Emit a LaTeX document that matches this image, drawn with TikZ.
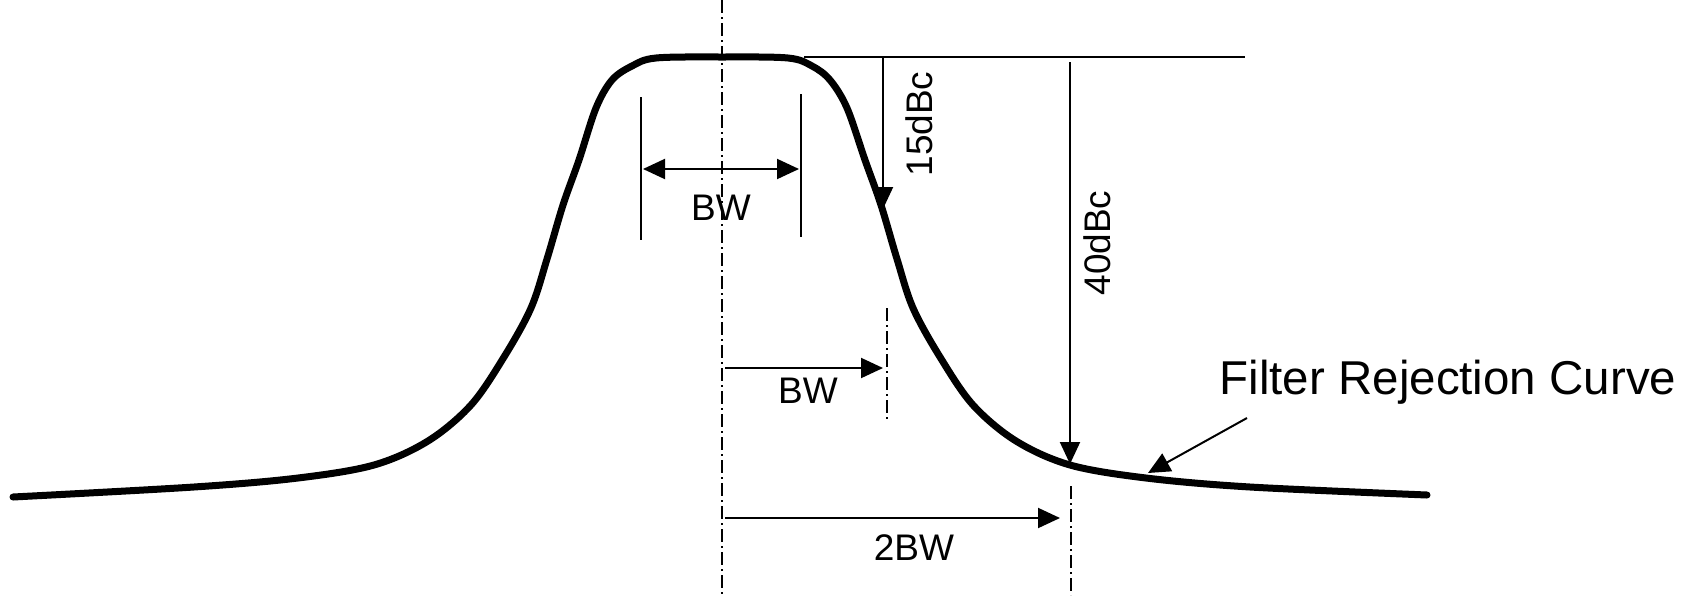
\documentclass[tikz,border=0pt]{standalone}
\usepackage{fontspec}
\setmainfont{Liberation Sans}
\usetikzlibrary{arrows.meta}
\begin{document}
\begin{tikzpicture}[x=1pt,y=-1pt,
  curve/.style={line width=7pt,line cap=round,line join=round},
  thinline/.style={line width=2pt},
  dd/.style={line width=1.5pt,dash pattern=on 13pt off 4pt on 2pt off 4pt},
  tipped/.style={-{Triangle[length=22pt,width=20pt]}},
  dtipped/.style={{Triangle[length=22pt,width=20pt]}-{Triangle[length=22pt,width=20pt]}},
  lbl/.style={font=\fontsize{37}{40}\selectfont,inner sep=0pt},
  biglbl/.style={font=\fontsize{47.5}{52}\selectfont,inner sep=0pt},
]
\useasboundingbox (0,0) rectangle (1695,595);

% filter curve
\draw[curve] plot[smooth,tension=0.55] coordinates {
 (13,497) (194,487) (298,478) (374,465) (428,441) (471,405) (504,357)
 (531,308) (547,259) (563,205) (579,160) (596,108) (612,80) (632,66) (656,58)
 (722,57) (788,58) (812,66) (830,80) (847,108) (865,160) (881,205)
 (897,259) (913,308) (940,357) (973,405) (1016,441) (1070,465)
 (1146,478) (1250,487) (1427,495)};

% centre line
\coordinate (ctop) at (722,0);
\coordinate (cbot) at (722,595);
\draw[dd] (ctop) -- (cbot);

% BW top
\coordinate (bwlt) at (641,97);  \coordinate (bwlb) at (641,240);
\coordinate (bwrt) at (801,94);  \coordinate (bwrb) at (801,237);
\draw[thinline] (bwlt) -- (bwlb);
\draw[thinline] (bwrt) -- (bwrb);
\coordinate (bwa1) at (643,169); \coordinate (bwa2) at (799,169);
\draw[thinline,dtipped] (bwa1) -- (bwa2);
\node[lbl] (bw1) at (721,208) {BW};

% top reference line and dBc arrows
\coordinate (hl) at (804,57); \coordinate (hr) at (1245,57);
\draw[thinline] (hl) -- (hr);
\coordinate (a15s) at (883,57); \coordinate (a15e) at (883,209);
\draw[thinline,tipped] (a15s) -- (a15e);
\node[lbl,rotate=90] (l15) at (919,124) {15dBc};
\coordinate (a40s) at (1070,62); \coordinate (a40e) at (1070,464);
\draw[thinline,tipped] (a40s) -- (a40e);
\node[lbl,rotate=90] (l40) at (1097,243) {40dBc};

% BW offset
\coordinate (b2s) at (725,368); \coordinate (b2e) at (883,368);
\draw[thinline,tipped] (b2s) -- (b2e);
\coordinate (d1t) at (887,308); \coordinate (d1b) at (887,419);
\draw[dd] (d1t) -- (d1b);
\node[lbl] (bw2) at (808,391) {BW};

% 2BW offset
\coordinate (c2s) at (725,518); \coordinate (c2e) at (1060,518);
\draw[thinline,tipped] (c2s) -- (c2e);
\coordinate (d2t) at (1071,486); \coordinate (d2b) at (1071,595);
\draw[dd] (d2t) -- (d2b);
\node[lbl] (bw3) at (914,548) {2BW};

% label
\node[biglbl] (frc) at (1448,382) {Filter Rejection Curve};
\coordinate (ps) at (1247,418); \coordinate (pe) at (1148,473);
\draw[thinline,tipped] (ps) -- (pe);
\end{tikzpicture}
\end{document}
